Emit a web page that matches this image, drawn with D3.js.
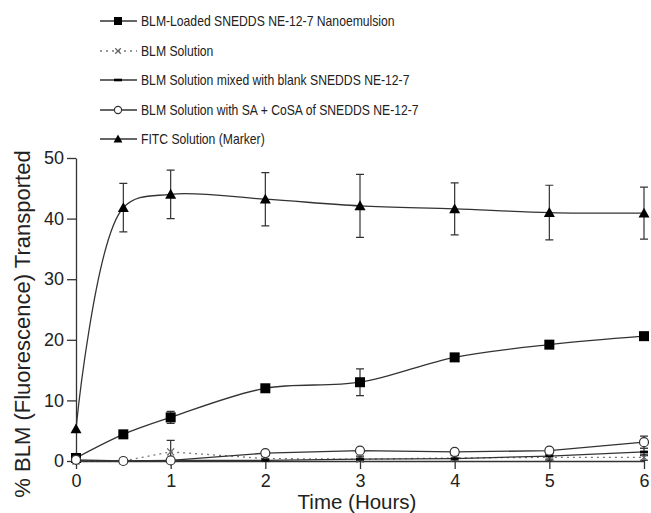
<!DOCTYPE html>
<html>
<head>
<meta charset="utf-8">
<script src="https://cdn.jsdelivr.net/npm/d3@7"></script>
<style>
  body { margin: 0; background: #fff; }
  text { font-family: "Liberation Sans", Arial, sans-serif; fill: #222; }
</style>
</head>
<body>
<div id="chart"></div>
<script>
// Temps de prélèvement (heures)
const times = [0, 0.5, 1, 2, 3, 4, 5, 6];

// Moyennes et écarts
const loadedMean = [0.5, 4.4, 7.2, 12.0, 13.0, 17.1, 19.2, 20.6];
const loadedErr = [0, 0, 1.0, 0, 2.2, 0.4, 0.4, 0.4];
const solutionMean = [0, 0, 1.5, 0.4, 0.3, 0.5, 0.6, 0.6];
const solutionErr = [0, 0, 1.9, 0.5, 0.5, 0.5, 0.5, 0.5];
const mixedMean = [0, 0, 0.1, 0.1, 0.3, 0.4, 0.8, 1.5];
const mixedErr = [0, 0, 0, 0.3, 0.4, 0.5, 0.5, 0.6];
const saMean = [0.2, 0, 0.1, 1.3, 1.7, 1.5, 1.7, 3.1];
const saErr = [0, 0, 0, 0, 0, 0.4, 0.4, 1.0];
const fitcMean = [5.3, 41.8, 44.0, 43.2, 42.1, 41.6, 41.0, 40.9];
const fitcErr = [0, 4.0, 4.0, 4.4, 5.2, 4.3, 4.5, 4.3];

const legendLabels = [
  "BLM-Loaded SNEDDS NE-12-7 Nanoemulsion",
  "BLM Solution",
  "BLM Solution mixed with blank SNEDDS NE-12-7",
  "BLM Solution with SA + CoSA of SNEDDS NE-12-7",
  "FITC Solution (Marker)",
];
const xTicks = [0, 1, 2, 3, 4, 5, 6];
const yTicks = [0, 10, 20, 30, 40, 50];

const W = 651, H = 513;
const svg = d3.select("#chart").append("svg")
  .attr("width", W).attr("height", H);

const x = d3.scaleLinear().domain([0, 6]).range([76, 644]);
const y = d3.scaleLinear().domain([0, 50]).range([461, 158]);

const lineColor = "#333";

// Axes
const yAxis = svg.append("g")
  .attr("transform", `translate(${x(0)},0)`)
  .call(d3.axisLeft(y).tickValues(yTicks).tickSize(9).tickSizeOuter(0).tickPadding(3));
const xAxis = svg.append("g")
  .attr("transform", `translate(0,${y(0)})`)
  .call(d3.axisBottom(x).tickValues(xTicks).tickFormat(d3.format("d"))
    .tickSize(8).tickSizeOuter(0).tickPadding(5));
[yAxis, xAxis].forEach(g => {
  g.selectAll("path, line").attr("stroke", lineColor).attr("stroke-width", 1.3);
  g.selectAll("text").style("font-size", "18px").attr("fill", "#222");
});

svg.append("text")
  .attr("transform", "translate(30,324) rotate(-90)")
  .attr("text-anchor", "middle")
  .style("font-size", "22px")
  .text("% BLM (Fluorescence) Transported");
svg.append("text")
  .attr("x", 357).attr("y", 509)
  .attr("text-anchor", "middle")
  .style("font-size", "20.5px")
  .text("Time (Hours)");

// Séries
const smooth = d3.curveCatmullRom.alpha(0.5);
const series = [
  { mean: loadedMean, err: loadedErr, marker: "square", curve: smooth, dash: null, color: lineColor },
  { mean: solutionMean, err: solutionErr, marker: "cross", curve: d3.curveLinear, dash: "2,4", color: "#777" },
  { mean: mixedMean, err: mixedErr, marker: "dash", curve: d3.curveLinear, dash: null, color: lineColor },
  { mean: saMean, err: saErr, marker: "circle", curve: d3.curveLinear, dash: null, color: lineColor },
  { mean: fitcMean, err: fitcErr, marker: "triangle", curve: smooth, dash: null, color: lineColor },
];

function drawMarker(g, type, cx, cy, small) {
  const k = small ? 0.8 : 1;
  if (type === "square") {
    const s = 10 * k;
    g.append("rect").attr("x", cx - s / 2).attr("y", cy - s / 2)
      .attr("width", s).attr("height", s).attr("fill", "#000");
  } else if (type === "triangle") {
    const s = 5.5 * k;
    g.append("path")
      .attr("d", `M${cx},${cy - s} L${cx + s},${cy + s * 0.8} L${cx - s},${cy + s * 0.8} Z`)
      .attr("fill", "#000");
  } else if (type === "circle") {
    g.append("circle").attr("cx", cx).attr("cy", cy).attr("r", 4.5 * k)
      .attr("fill", "#fff").attr("stroke", "#333").attr("stroke-width", 1.2);
  } else if (type === "cross") {
    const s = 3.5 * k;
    g.append("path")
      .attr("d", `M${cx - s},${cy - s} L${cx + s},${cy + s} M${cx + s},${cy - s} L${cx - s},${cy + s}`)
      .attr("stroke", "#666").attr("stroke-width", 1.3);
  } else if (type === "dash") {
    g.append("rect").attr("x", cx - 4).attr("y", cy - 1.3)
      .attr("width", 8).attr("height", 2.6).attr("fill", "#000");
  }
}

const plot = svg.append("g");
series.forEach(s => {
  const pts = times.map((t, i) => [x(t), y(s.mean[i])]);
  plot.append("path")
    .attr("d", d3.line().curve(s.curve)(pts))
    .attr("fill", "none")
    .attr("stroke", s.color)
    .attr("stroke-width", 1.3)
    .attr("stroke-dasharray", s.dash);
});

series.forEach(s => {
  times.forEach((t, i) => {
    if (!s.err[i]) return;
    const cx = x(t), y1 = y(s.mean[i] + s.err[i]), y2 = y(Math.max(0, s.mean[i] - s.err[i]));
    plot.append("path")
      .attr("d", `M${cx},${y1} V${y2} M${cx - 4},${y1} H${cx + 4} M${cx - 4},${y2} H${cx + 4}`)
      .attr("stroke", "#333").attr("stroke-width", 1.2).attr("fill", "none");
  });
});

series.forEach(s => {
  times.forEach((t, i) => drawMarker(plot, s.marker, x(t), y(s.mean[i]), false));
});

// Légende
const legend = svg.append("g");
const rowY = [21, 51, 80, 110, 139];
series.forEach((s, i) => {
  const ly = rowY[i];
  legend.append("line")
    .attr("x1", 100).attr("x2", 137).attr("y1", ly).attr("y2", ly)
    .attr("stroke", s.color).attr("stroke-width", 1.3)
    .attr("stroke-dasharray", s.dash);
  drawMarker(legend, s.marker, 118, ly, true);
  legend.append("text")
    .attr("transform", `translate(141,${ly + 5}) scale(0.84,1)`)
    .style("font-size", "14.5px")
    .text(legendLabels[i]);
});
</script>
</body>
</html>
